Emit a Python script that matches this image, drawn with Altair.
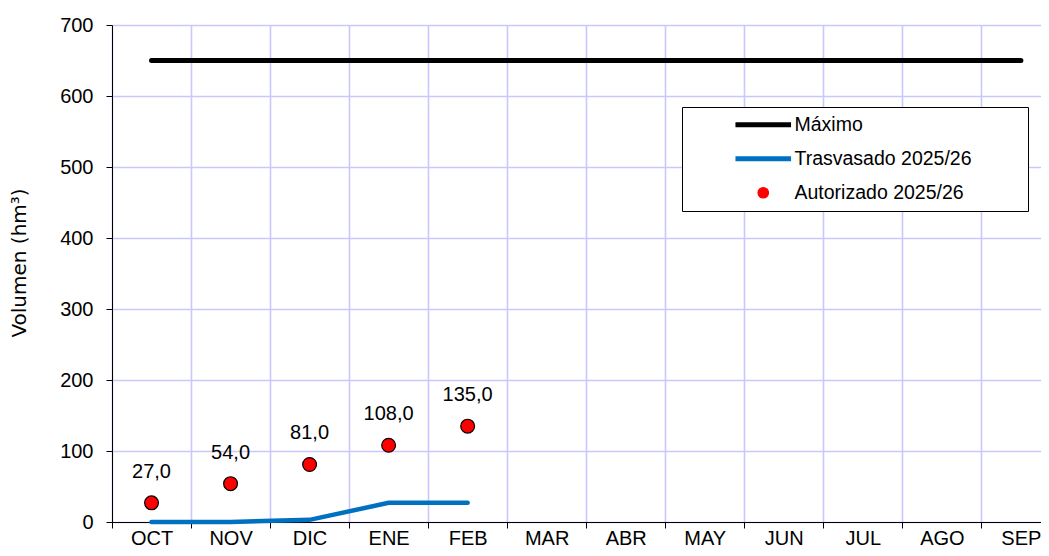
import altair as alt
import pandas as pd

months = ["OCT", "NOV", "DIC", "ENE", "FEB", "MAR", "ABR", "MAY", "JUN", "JUL", "AGO", "SEP"]
maximo = [650] * 12
trasvasado = [0, 0, 3, 27, 27]
autorizado = [27.0, 54.0, 81.0, 108.0, 135.0]

S_MAX = "Máximo"
S_TRA = "Trasvasado 2025/26"
S_AUT = "Autorizado 2025/26"

df_max = pd.DataFrame({"mes": months, "valor": maximo, "serie": S_MAX})
df_tra = pd.DataFrame({"mes": months[:len(trasvasado)], "valor": trasvasado, "serie": S_TRA})
df_aut = pd.DataFrame({"mes": months[:len(autorizado)], "valor": autorizado, "serie": S_AUT})
df_aut["etiqueta"] = [f"{v:.1f}".replace(".", ",") for v in autorizado]

FONT = "Liberation Sans"
GRID = "#C8C8FF"

x = alt.X("mes:N", sort=months,
          scale=alt.Scale(type="band", domain=months, paddingInner=0, paddingOuter=0, range=[0, 948.4]),
          axis=alt.Axis(title=None, grid=True, tickBand="extent", labelAngle=0, labelFontSize=20,
                        labelFont=FONT, labelColor="black", labelPadding=0, tickSize=6,
                        tickColor="black", domainColor="black", gridColor=GRID, gridWidth=1.6))
y = alt.Y("valor:Q", scale=alt.Scale(domain=[0, 700], nice=False),
          axis=alt.Axis(title="Volumen (hm³)", values=list(range(0, 701, 100)), labelFontSize=20,
                        labelFont=FONT, labelColor="black", labelPadding=13, tickSize=6,
                        tickColor="black", domainColor="black", gridColor=GRID, gridWidth=1.6,
                        titleFont="DejaVu Sans", titleFontSize=20, titleFontWeight="normal", titleColor="black",
                        titleX=-92.5, titleY=237.5, titleAngle=270, titleBaseline="middle", titleAlign="center"))

test = f"datum.value === '{S_AUT}'"
legend = alt.Legend(
    orient="none", legendX=570, legendY=82, direction="vertical",
    title=" ", titleOrient="right", titlePadding=48, titleFontSize=20,
    padding=8, strokeColor="black", fillColor="white", cornerRadius=0,
    labelFont=FONT, labelFontSize=19.5, labelColor="black", labelOffset=21.5, labelLimit=400,
    symbolOffset=63.5, rowPadding=13,
    symbolType=alt.ExprRef(f"{test} ? 'circle' : 'M-5.3,0H5.3'"),
    symbolSize=110,
    symbolStrokeWidth=alt.ExprRef(f"({test} ? 1.2 : 5)"),
    symbolStrokeColor=alt.ExprRef(f"{test} ? 'black' : scale('color', datum.value)"),
    symbolFillColor=alt.ExprRef(f"{test} ? '#FF0000' : 'transparent'"),
    symbolOpacity=1,
)
color = alt.Color("serie:N", scale=alt.Scale(domain=[S_MAX, S_TRA, S_AUT], range=["#000000", "#0070C0", "#FF0000"]),
                  legend=legend)

line_max = alt.Chart(df_max).mark_line(strokeWidth=5, strokeCap="round").encode(x=x, y=y, color=color)
line_tra = alt.Chart(df_tra).mark_line(strokeWidth=4.5, strokeCap="round").encode(x=x, y=y, color=color)
pts = alt.Chart(df_aut).mark_point(filled=True, size=190, stroke="black", strokeWidth=1.2, opacity=1).encode(
    x=x, y=y, color=color)
txt = alt.Chart(df_aut).mark_text(dy=-31, fontSize=20, font=FONT, color="black", baseline="middle").encode(
    x=x, y=y, text="etiqueta:N")

chart = alt.layer(line_max, line_tra, pts, txt).properties(
    width=929, height=497,
    autosize=alt.AutoSizeParams(type="none"),
    padding={"left": 104, "top": 17, "right": 0, "bottom": 26},
).configure_view(stroke=None).configure(background="white")

chart.save("out.html", embed_options={"renderer": "svg", "actions": False})
